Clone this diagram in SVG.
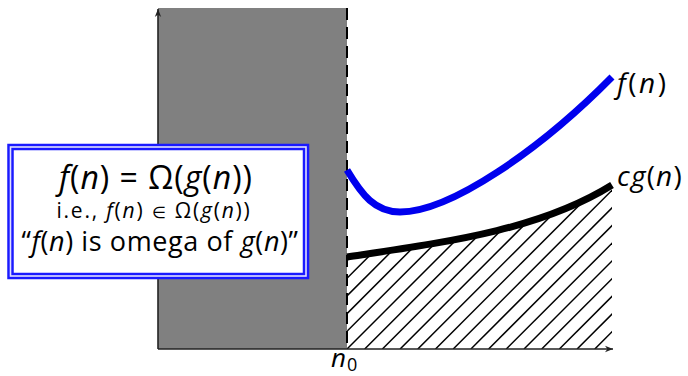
<svg xmlns="http://www.w3.org/2000/svg" width="688" height="376" viewBox="0 0 688 376">
<style>
text{font-family:"Open Sans","Noto Sans",sans-serif;fill:#000}
.it{font-style:italic}
.hatch line{stroke:#000;stroke-width:1.5}
.axis{stroke:#222;stroke-width:1.6;fill:none}
</style>
<defs>
<marker id="arr" viewBox="0 0 10 10" refX="10" refY="5" markerWidth="8" markerHeight="8" markerUnits="userSpaceOnUse" orient="auto">
<path d="M0,1 L10,5 L0,9 L3,5 Z" fill="#222"/>
</marker>
<clipPath id="hclip">
<path d="M347,257 C447,242 540,230 612,185 L612,349 L347,349 Z"/>
</clipPath>
</defs>
<g id="shade">
<rect x="158" y="8" width="189" height="341" fill="#808080"/>
</g>
<g id="hatching" class="hatch" clip-path="url(#hclip)">
<line x1="187.7" y1="349" x2="487.7" y2="49"/>
<line x1="205.4" y1="349" x2="505.4" y2="49"/>
<line x1="223.1" y1="349" x2="523.1" y2="49"/>
<line x1="240.8" y1="349" x2="540.8" y2="49"/>
<line x1="258.5" y1="349" x2="558.5" y2="49"/>
<line x1="276.2" y1="349" x2="576.2" y2="49"/>
<line x1="293.9" y1="349" x2="593.9" y2="49"/>
<line x1="311.6" y1="349" x2="611.6" y2="49"/>
<line x1="329.3" y1="349" x2="629.3" y2="49"/>
<line x1="347" y1="349" x2="647" y2="49"/>
<line x1="364.7" y1="349" x2="664.7" y2="49"/>
<line x1="382.4" y1="349" x2="682.4" y2="49"/>
<line x1="400.1" y1="349" x2="700.1" y2="49"/>
<line x1="417.8" y1="349" x2="717.8" y2="49"/>
<line x1="435.5" y1="349" x2="735.5" y2="49"/>
<line x1="453.2" y1="349" x2="753.2" y2="49"/>
<line x1="470.9" y1="349" x2="770.9" y2="49"/>
<line x1="488.6" y1="349" x2="788.6" y2="49"/>
<line x1="506.3" y1="349" x2="806.3" y2="49"/>
<line x1="524" y1="349" x2="824" y2="49"/>
<line x1="541.7" y1="349" x2="841.7" y2="49"/>
<line x1="559.4" y1="349" x2="859.4" y2="49"/>
<line x1="577.1" y1="349" x2="877.1" y2="49"/>
<line x1="594.8" y1="349" x2="894.8" y2="49"/>
</g>
<g id="connectors">
<line class="axis" x1="158" y1="349" x2="158" y2="9" marker-end="url(#arr)"/>
<line class="axis" x1="158" y1="349" x2="613" y2="349" marker-end="url(#arr)"/>
<line x1="347" y1="8" x2="347" y2="349" stroke="#000" stroke-width="2" stroke-dasharray="12,7"/>
<path id="cg" d="M347,257 C447,242 540,230 612,185" fill="none" stroke="#000" stroke-width="7"/>
<path id="f" d="M347,170 C362,195 375,212 400,212 C450,212 540,150 612,77" fill="none" stroke="#0000ee" stroke-width="7"/>
</g>
<g id="box">
<rect x="10.5" y="147" width="295.5" height="129" fill="#fff" stroke="#1a1aff" stroke-width="6.5"/>
<rect x="10.5" y="147" width="295.5" height="129" fill="none" stroke="#dfe0ff" stroke-width="1.6"/>
<text x="156" y="189" font-size="32" letter-spacing="1" text-anchor="middle"><tspan class="it">f</tspan>(<tspan class="it">n</tspan>) = Ω(<tspan class="it">g</tspan>(<tspan class="it">n</tspan>))</text>
<text x="154" y="218" font-size="21" letter-spacing="1.8" text-anchor="middle">i.e., <tspan class="it">f</tspan>(<tspan class="it">n</tspan>) <tspan font-size="16">∈</tspan> Ω(<tspan class="it">g</tspan>(<tspan class="it">n</tspan>))</text>
<text x="160" y="251" font-size="27" letter-spacing="0.6" text-anchor="middle">“<tspan class="it">f</tspan>(<tspan class="it">n</tspan>) is omega of <tspan class="it">g</tspan>(<tspan class="it">n</tspan>)”</text>
</g>
<g id="label-f">
<text x="617" y="93" font-size="28" letter-spacing="2.5"><tspan class="it">f</tspan>(<tspan class="it">n</tspan>)</text>
</g>
<g id="label-cg">
<text x="617" y="186" font-size="28" letter-spacing="1.2"><tspan class="it">cg</tspan>(<tspan class="it">n</tspan>)</text>
</g>
<g id="label-n0">
<text x="331" y="367" font-size="26"><tspan class="it">n</tspan><tspan font-size="18" dx="1" dy="4">0</tspan></text>
</g>
</svg>
